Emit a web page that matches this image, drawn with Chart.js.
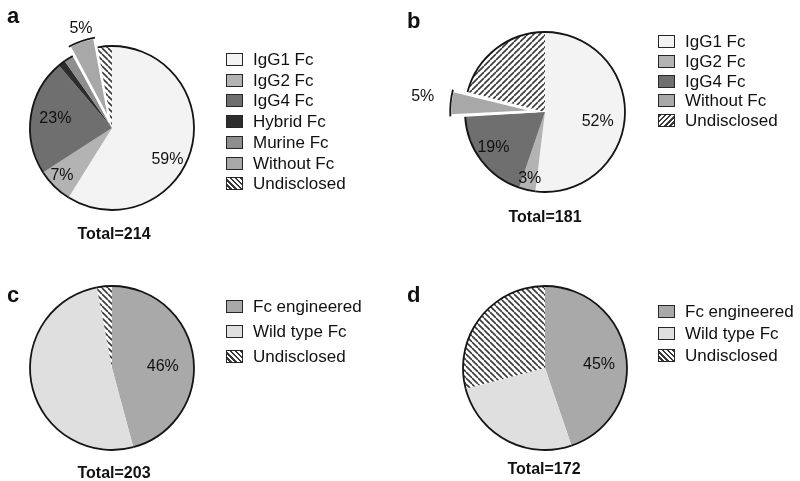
<!DOCTYPE html>
<html>
<head>
<meta charset="utf-8">
<script src="https://cdn.jsdelivr.net/npm/chart.js@4/dist/chart.umd.min.js"></script>
<style>
  html, body { margin: 0; padding: 0; background: #fff; }
  body { width: 800px; height: 481px; position: relative; overflow: hidden;
         font-family: "Liberation Sans", Arial, sans-serif; color: #111; }
  canvas { position: absolute; }
  .letter { position: absolute; font-weight: bold; font-size: 22px; line-height: 1; }
  .total { position: absolute; font-weight: bold; font-size: 16px; line-height: 1; transform: translate(-50%, -50%); white-space: nowrap; }
  .legend { position: absolute; left: 0; top: 0; }
  .row { position: absolute; height: 20px; white-space: nowrap; font-size: 17px; line-height: 20px; }
  .sw { position: absolute; width: 15px; height: 11px; border: 1.6px solid #262626; top: 3px; left: 0; }
  .lt { position: absolute; left: 27px; top: 0; }
</style>
</head>
<body>
<canvas id="cA" width="400" height="240" style="left:0;top:0"></canvas>
<canvas id="cB" width="400" height="240" style="left:400px;top:0"></canvas>
<canvas id="cC" width="400" height="241" style="left:0;top:240px"></canvas>
<canvas id="cD" width="400" height="241" style="left:400px;top:240px"></canvas>
<div class="letter" style="left:7px;top:5px">a</div>
<div class="letter" style="left:407px;top:10px">b</div>
<div class="letter" style="left:7px;top:284px">c</div>
<div class="letter" style="left:407px;top:284px">d</div>
<div id="legends"></div>
<div id="totals"></div>
<script>
// ---------- data ----------
const catsA = ['IgG1 Fc', 'IgG2 Fc', 'IgG4 Fc', 'Hybrid Fc', 'Murine Fc', 'Without Fc', 'Undisclosed'];
const countsA = [126, 15, 49, 3, 4, 11, 6];

const catsB = ['IgG1 Fc', 'IgG2 Fc', 'IgG4 Fc', 'Without Fc', 'Undisclosed'];
const countsB = [94, 6, 34, 9, 38];

const catsC = ['Fc engineered', 'Wild type Fc', 'Undisclosed'];
const countsC = [93, 104, 6];

const catsD = ['Fc engineered', 'Wild type Fc', 'Undisclosed'];
const countsD = [77, 45, 50];

// ---------- styling ----------
const FONT = '"Liberation Sans", Arial, sans-serif';
const fillColors = {
  'IgG1 Fc': '#f3f3f3',
  'IgG2 Fc': '#b3b3b3',
  'IgG4 Fc': '#6f6f6f',
  'Hybrid Fc': '#2d2d2d',
  'Murine Fc': '#8e8e8e',
  'Without Fc': '#a8a8a8',
  'Fc engineered': '#a9a9a9',
  'Wild type Fc': '#dfdfdf'
};

function hatch(dir, g) {
  const c = document.createElement('canvas');
  c.width = g; c.height = g;
  const x = c.getContext('2d');
  x.fillStyle = '#ffffff'; x.fillRect(0, 0, g, g);
  x.strokeStyle = '#3a3a3a'; x.lineWidth = 1.6;
  x.beginPath();
  for (let k = -1; k <= 2; k++) {
    if (dir === '\\') { x.moveTo(0, k * g); x.lineTo(g, k * g + g); }
    else { x.moveTo(0, k * g); x.lineTo(g, k * g - g); }
  }
  x.stroke();
  return x.createPattern(c, 'repeat');
}

function colorsFor(cats, hatchDir) {
  return cats.map(c => c === 'Undisclosed' ? hatch(hatchDir, 6) : fillColors[c]);
}

// draws the black outer rim of every arc (following Chart.js' own offset geometry) and % labels
const rimAndLabels = {
  id: 'rimAndLabels',
  afterDatasetsDraw(chart, args, opts) {
    const ctx = chart.ctx;
    const meta = chart.getDatasetMeta(0);
    const data = chart.data.datasets[0].data;
    const total = data.reduce((a, b) => a + b, 0);
    ctx.save();
    ctx.strokeStyle = '#151515';
    ctx.lineWidth = 1.8;
    meta.data.forEach(arc => {
      const p = arc.getProps(['x', 'y', 'startAngle', 'endAngle', 'outerRadius', 'circumference'], true);
      const off = (arc.options.offset || 0) / 4;
      const mid = (p.startAngle + p.endAngle) / 2;
      const fix = 1 - Math.sin(Math.min(Math.PI, p.circumference || 0));
      const cx = p.x + Math.cos(mid) * off;
      const cy = p.y + Math.sin(mid) * off;
      ctx.beginPath();
      ctx.arc(cx, cy, p.outerRadius + off * fix, p.startAngle, p.endAngle);
      ctx.stroke();
    });
    ctx.font = '16px ' + FONT;
    ctx.fillStyle = '#111';
    ctx.textAlign = 'center';
    ctx.textBaseline = 'middle';
    (opts.items || []).forEach(it => {
      const arc = meta.data[it.index];
      const p = arc.getProps(['x', 'y', 'startAngle', 'endAngle', 'outerRadius'], true);
      const a = (p.startAngle + p.endAngle) / 2 + (it.shift || 0) * Math.PI / 180;
      const r = p.outerRadius * it.r;
      ctx.fillText(Math.round(data[it.index] / total * 100) + '%', p.x + Math.cos(a) * r, p.y + Math.sin(a) * r);
    });
    ctx.restore();
  }
};

function makePie(id, cats, counts, cfg) {
  const explodeIdx = cats.indexOf('Without Fc');
  new Chart(document.getElementById(id), {
    type: 'pie',
    data: {
      labels: cats,
      datasets: [{
        data: counts,
        backgroundColor: colorsFor(cats, cfg.hatchDir),
        borderColor: '#ffffff',
        borderWidth: cats.map((c, i) => i === explodeIdx ? 2.5 : 0),
        offset: cats.map((c, i) => i === explodeIdx ? cfg.explode : 0),
        hoverOffset: 0
      }]
    },
    options: {
      responsive: false,
      animation: false,
      events: [],
      radius: cfg.radius,
      layout: { padding: cfg.padding },
      plugins: {
        legend: { display: false },
        tooltip: { enabled: false },
        rimAndLabels: { items: cfg.labels }
      }
    },
    plugins: [rimAndLabels]
  });
}

// panel a : centre (112,128)
makePie('cA', catsA, countsA, {
  hatchDir: '\\', explode: 24, radius: 82,
  padding: { left: 12, right: 188, top: 28, bottom: 12 },
  labels: [ { index: 0, r: 0.78, shift: 14 }, { index: 1, r: 0.84, shift: 2 },
            { index: 2, r: 0.70, shift: 1 }, { index: 5, r: 1.27, shift: 2 } ]
});
// panel b : centre (545,112) -> local (145,112)
makePie('cB', catsB, countsB, {
  hatchDir: '/', explode: 35, radius: 80,
  padding: { left: 45, right: 155, top: 12, bottom: 28 },
  labels: [ { index: 0, r: 0.67, shift: 7 }, { index: 1, r: 0.85, shift: 0 },
            { index: 2, r: 0.78, shift: 3 }, { index: 3, r: 1.54, shift: 1.5 } ]
});
// panel c : centre (112,368) -> local (112,128)
makePie('cC', catsC, countsC, {
  hatchDir: '\\', explode: 0, radius: 82,
  padding: { left: 12, right: 188, top: 28, bottom: 13 },
  labels: [ { index: 0, r: 0.62, shift: 5.5 } ]
});
// panel d : centre (545,368) -> local (145,128)
makePie('cD', catsD, countsD, {
  hatchDir: '\\', explode: 0, radius: 82,
  padding: { left: 45, right: 155, top: 28, bottom: 13 },
  labels: [ { index: 0, r: 0.66, shift: 6 } ]
});

// ---------- HTML legends & totals ----------
function legend(cats, boxLeft, firstCenter, step, hatchDir) {
  const host = document.getElementById('legends');
  cats.forEach((c, i) => {
    const row = document.createElement('div');
    row.className = 'row';
    row.style.left = boxLeft + 'px';
    row.style.top = (firstCenter + i * step - 10) + 'px';
    const sw = document.createElement('div');
    sw.className = 'sw';
    if (c === 'Undisclosed') {
      const ang = hatchDir === '\\' ? '45deg' : '-45deg';
      sw.style.background = 'repeating-linear-gradient(' + ang + ', #ffffff 0px, #ffffff 2px, #3a3a3a 2px, #3a3a3a 3.6px)';
    } else {
      sw.style.background = fillColors[c];
    }
    const t = document.createElement('span');
    t.className = 'lt';
    t.textContent = c;
    row.appendChild(sw); row.appendChild(t);
    host.appendChild(row);
  });
}
legend(catsA, 226, 60, 20.7, '\\');
legend(catsB, 658, 42, 19.8, '/');
legend(catsC, 226, 307, 25, '\\');
legend(catsD, 658, 312, 22, '\\');

function total(counts, cx, cy) {
  const d = document.createElement('div');
  d.className = 'total';
  d.style.left = cx + 'px'; d.style.top = cy + 'px';
  d.textContent = 'Total=' + counts.reduce((a, b) => a + b, 0);
  document.getElementById('totals').appendChild(d);
}
total(countsA, 114, 234);
total(countsB, 545, 217);
total(countsC, 114, 473);
total(countsD, 544, 469);
</script>
</body>
</html>
